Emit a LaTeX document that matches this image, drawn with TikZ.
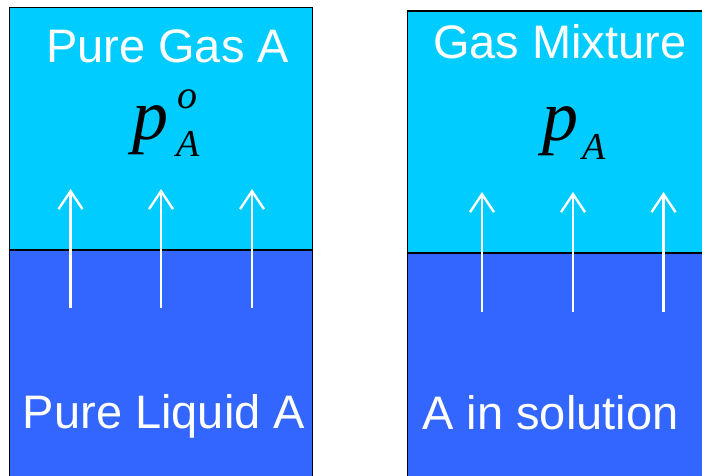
\documentclass[tikz,border=0pt]{standalone}
\usepackage{fontspec}
\setmainfont{Liberation Sans}
\newfontfamily\mathserif{Liberation Serif}
\usetikzlibrary{arrows.meta}
\definecolor{gascol}{HTML}{00CCFF}
\definecolor{liqcol}{HTML}{3366FF}
\tikzset{
  label text/.style={text=white, inner sep=0pt, anchor=base, font=\fontsize{47}{47}\selectfont},
  flux/.style={draw=white, line width=2.8pt, -{Straight Barb[length=18pt,width=24pt,line width=2.4pt]}},
  boxline/.style={draw=black, line width=1.5pt},
  interface/.style={draw=black, line width=2pt},
}
\begin{document}
\begin{tikzpicture}[x=1pt,y=-1pt]
\useasboundingbox (0,0) rectangle (702,476);
% left container
\fill[gascol] (9.5,7.5) rectangle (312.5,250);
\fill[liqcol] (9.5,250) rectangle (312.5,480);
\draw[boxline] (9.5,480) -- (9.5,7.5) -- (312.5,7.5) -- (312.5,480);
\draw[interface] (9.5,250) -- (312.5,250);
% right container
\fill[gascol] (407.7,11) rectangle (710,253);
\fill[liqcol] (407.7,253) rectangle (710,480);
\draw[boxline] (407.7,480) -- (407.7,11) -- (710,11);
\draw[interface] (407.7,253) -- (710,253);
% texts
\node[label text] (gasA) at (167.5,63) {Pure Gas A};
\node[label text] (liqA) at (164,428) {Pure Liquid A};
\node[label text] (mix) at (559.7,58.5) {Gas Mixture};
\node[label text] (sol) at (550.5,429) {A in solution};
\node[anchor=base west, inner sep=0pt] (pAo) at (132,140)
  {\mathserif\itshape\fontsize{72}{72}\selectfont p\hspace{9pt}\rlap{\raisebox{32pt}{\fontsize{40}{40}\selectfont o}}\hspace{-1pt}\raisebox{-17pt}{\fontsize{38}{38}\selectfont A}};
\node[anchor=base west, inner sep=0pt] (pA) at (542,141)
  {\mathserif\itshape\fontsize{72}{72}\selectfont p\hspace{4pt}\raisebox{-19pt}{\fontsize{38}{38}\selectfont A}};
% arrows
\foreach \i/\x in {1/70.5,2/161,3/252}{
  \coordinate (l\i s) at (\x,308);
  \coordinate (l\i e) at (\x,189);
  \draw[flux] (l\i s) -- (l\i e);
}
\foreach \i/\x in {1/482,2/573,3/663.5}{
  \coordinate (r\i s) at (\x,312);
  \coordinate (r\i e) at (\x,192);
  \draw[flux] (r\i s) -- (r\i e);
}
\end{tikzpicture}
\end{document}
